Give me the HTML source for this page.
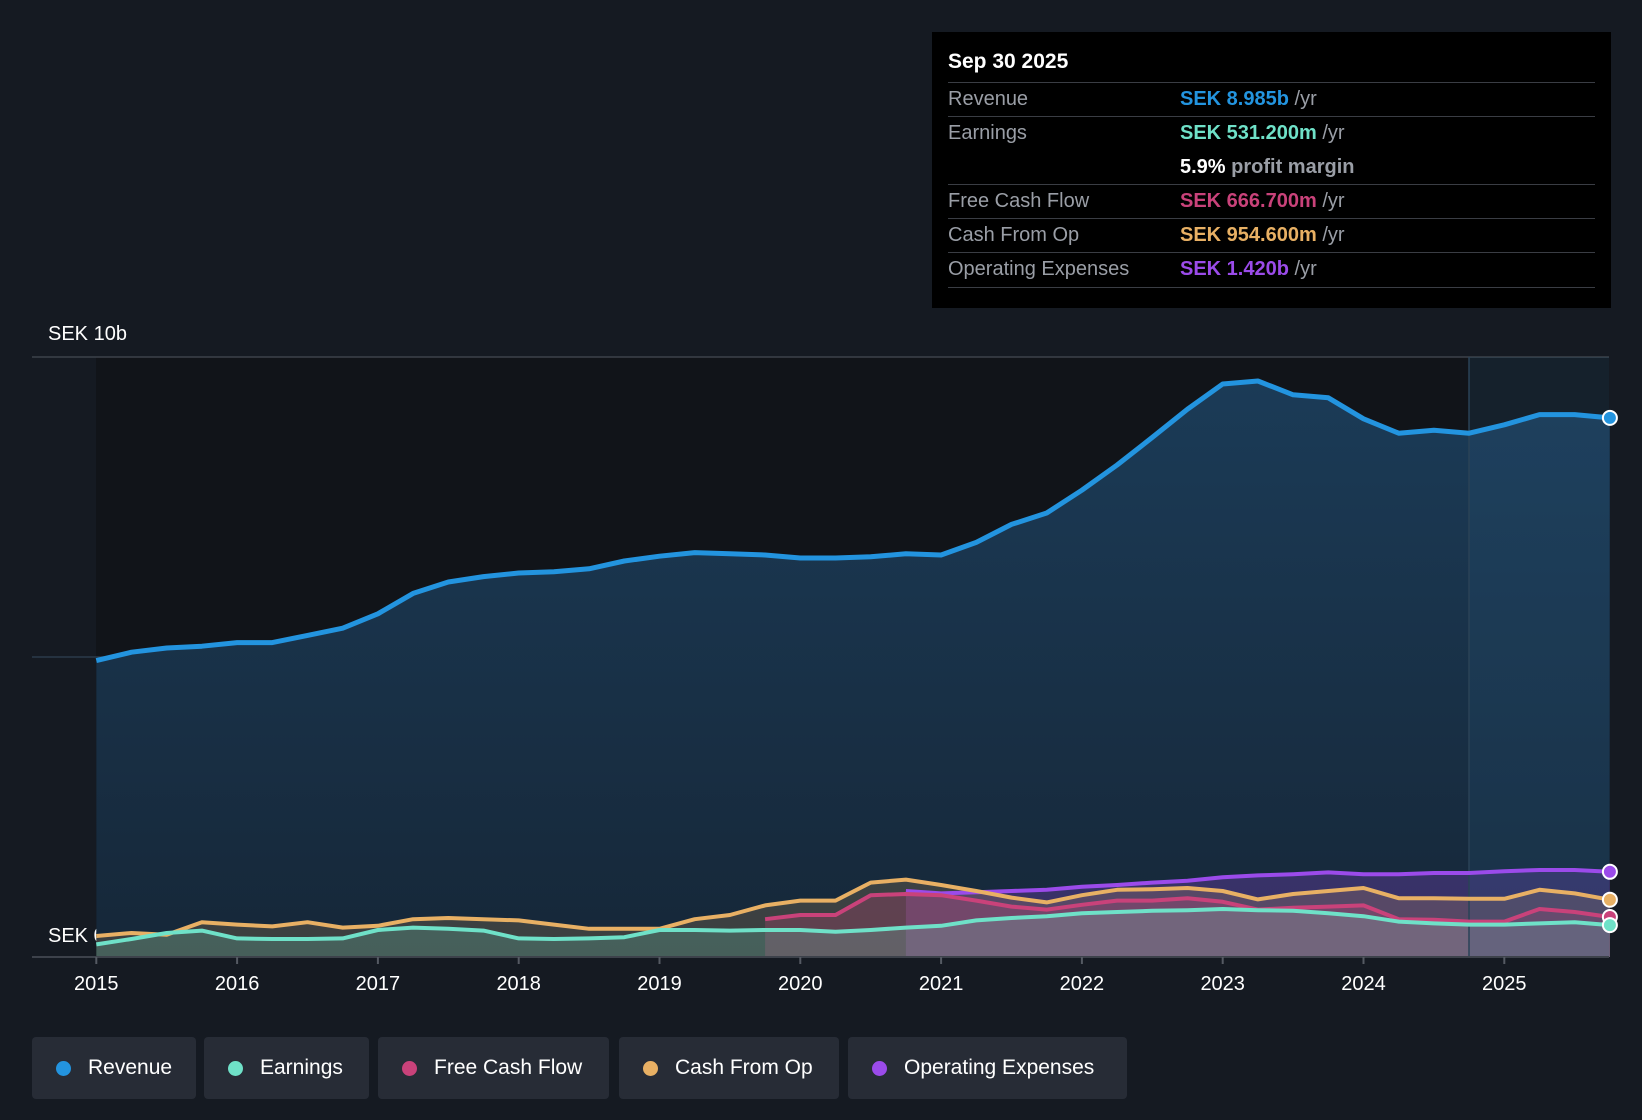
<!DOCTYPE html>
<html><head><meta charset="utf-8">
<style>
body{margin:0;width:1642px;height:1120px;background:#151a22;font-family:"Liberation Sans",sans-serif;overflow:hidden;position:relative}
.tt{position:absolute;left:932px;top:32px;width:679px;height:276px;background:#000;color:#fff}
.tt .t{position:absolute;left:16px;top:18px;font-size:21px;font-weight:bold}
.row{position:absolute;left:16px;width:647px;height:34px;border-top:1px solid #3a3d44;font-size:20px;line-height:32px;color:#9a9ea6}
.row .v{position:absolute;left:232px;top:0;font-weight:bold}
.row .v span{color:#9a9ea6;font-weight:normal}
.leg{position:absolute;top:1037px;height:62px;background:#272c36;border-radius:4px;color:#fff;font-size:21px;line-height:62px}
.leg i{position:absolute;left:24px;top:24px;width:15px;height:15px;border-radius:50%}
.leg b{font-weight:normal;position:absolute;left:56px}
</style></head><body>
<svg id="chart" width="1642" height="1120" style="position:absolute;left:0;top:0"></svg>
<div class="tt">
<div class="t">Sep 30 2025</div>
<div class="row" style="top:50px">Revenue<div class="v" style="color:#2394df">SEK 8.985b <span>/yr</span></div></div>
<div class="row" style="top:84px;height:68px">Earnings<div class="v" style="color:#6fe1c8">SEK 531.200m <span>/yr</span></div><div class="v" style="top:34px;color:#fff">5.9% <span style="font-weight:bold">profit margin</span></div></div>
<div class="row" style="top:152px">Free Cash Flow<div class="v" style="color:#c9427a">SEK 666.700m <span>/yr</span></div></div>
<div class="row" style="top:186px">Cash From Op<div class="v" style="color:#e8b064">SEK 954.600m <span>/yr</span></div></div>
<div class="row" style="top:220px;border-bottom:1px solid #3a3d44">Operating Expenses<div class="v" style="color:#9b4bea">SEK 1.420b <span>/yr</span></div></div>
</div>
<div class="leg" style="left:32px;width:164px"><i style="background:#2394df"></i><b>Revenue</b></div>
<div class="leg" style="left:204px;width:165px"><i style="background:#6fe1c8"></i><b>Earnings</b></div>
<div class="leg" style="left:378px;width:231px"><i style="background:#c9427a"></i><b>Free Cash Flow</b></div>
<div class="leg" style="left:619px;width:220px"><i style="background:#e8b064"></i><b>Cash From Op</b></div>
<div class="leg" style="left:848px;width:279px"><i style="background:#9b4bea"></i><b>Operating Expenses</b></div>
<script>
const startYear=2015, step=0.25;
const revenue=[4.94,5.08,5.15,5.18,5.24,5.24,5.36,5.48,5.72,6.06,6.25,6.34,6.40,6.42,6.47,6.60,6.68,6.74,6.72,6.70,6.65,6.65,6.67,6.72,6.70,6.91,7.21,7.40,7.78,8.20,8.66,9.13,9.55,9.60,9.37,9.32,8.97,8.73,8.78,8.73,8.87,9.04,9.04,8.985];
const earnings=[0.21,0.30,0.40,0.44,0.31,0.30,0.30,0.31,0.45,0.49,0.47,0.44,0.31,0.30,0.31,0.33,0.45,0.45,0.44,0.45,0.45,0.42,0.45,0.49,0.52,0.61,0.65,0.68,0.73,0.75,0.77,0.78,0.80,0.78,0.77,0.73,0.68,0.59,0.56,0.54,0.54,0.56,0.58,0.531];
const cfo=[0.35,0.40,0.37,0.58,0.54,0.51,0.58,0.49,0.52,0.63,0.65,0.63,0.61,0.54,0.47,0.47,0.47,0.63,0.70,0.86,0.94,0.94,1.24,1.29,1.20,1.10,0.99,0.91,1.03,1.12,1.13,1.15,1.10,0.96,1.05,1.10,1.15,0.98,0.98,0.97,0.97,1.12,1.06,0.955];
const fcfStart=2019.75;
const fcf=[0.63,0.70,0.70,1.03,1.05,1.03,0.94,0.84,0.79,0.87,0.94,0.94,0.98,0.92,0.79,0.82,0.84,0.86,0.63,0.62,0.59,0.59,0.80,0.75,0.667];
const opexStart=2020.75;
const opex=[1.10,1.06,1.08,1.10,1.12,1.17,1.20,1.24,1.27,1.33,1.36,1.38,1.41,1.38,1.38,1.40,1.40,1.43,1.45,1.45,1.42];
const years=[2015,2016,2017,2018,2019,2020,2021,2022,2023,2024,2025];
const yTicks=[0,5,10];
const yLabels=["SEK 0","","SEK 10b"];
const X=t=>96.3+(t-2015)*140.8, Y=v=>957-v*60;
const svg=document.getElementById('chart'),NS='http://www.w3.org/2000/svg';
function el(tag,a){const e=document.createElementNS(NS,tag);for(const k in a)e.setAttribute(k,a[k]);svg.appendChild(e);return e;}
const defs=el('defs',{});
defs.innerHTML='<linearGradient id="rg" x1="0" y1="0" x2="0" y2="1"><stop offset="0" stop-color="#1b3b57"/><stop offset="1" stop-color="#162738"/></linearGradient>';
const bg=el('rect',{x:96,y:357,width:1513,height:600,fill:'#111419'});


yTicks.forEach((v,i)=>{const l=el('line',{x1:32,x2:1609,y1:Y(v),y2:Y(v),stroke:i==1?'#2b3a4a':'#3d424b','stroke-width':1.5});


if(yLabels[i]){const t=el('text',{x:48,y:Y(v)-(i==0?15:17),fill:'#fff','font-size':20});t.textContent=yLabels[i];

}});
function pts(arr,start){return arr.map((v,i)=>[X(start+i*step),Y(v)]);}
function path(p){return p.map((q,i)=>(i?'L':'M')+q[0].toFixed(1)+' '+q[1].toFixed(1)).join('');}
const series=[[revenue,2015,'#2394df','revenue','url(#rg)',1],[opex,opexStart,'#9b4bea','opex','#9b4bea',0.25],[cfo,2015,'#e8b064','cfo','#e8b064',0.18],[fcf,fcfStart,'#c9427a','fcf','#c9427a',0.25],[earnings,2015,'#6fe1c8','earnings','#6fe1c8',0.2]];
series.forEach(s=>{const p=pts(s[0],s[1]);const a=el('path',{d:path(p)+`L${p[p.length-1][0]} ${Y(0)}L${p[0][0]} ${Y(0)}Z`,fill:s[4],'fill-opacity':s[5]});

});
const fc=el('rect',{x:1469,y:357,width:140,height:600,fill:'#2a5d86','fill-opacity':0.18});


el('line',{x1:1469,x2:1469,y1:357,y2:957,stroke:'#2a4256','stroke-width':1.5});
series.forEach(s=>{const p=pts(s[0],s[1]);const l=el('path',{d:path(p),fill:'none',stroke:s[2],'stroke-width':s[3]=='revenue'?5:4,'stroke-linejoin':'round'});


const q=p[p.length-1];const c=el('circle',{cx:q[0],cy:q[1],r:7,fill:s[2],stroke:'#fff','stroke-width':2});

});
el('line',{x1:32,x2:1609,y1:957,y2:957,stroke:'#3d424b','stroke-width':2});
years.forEach(y=>{el('line',{x1:X(y),x2:X(y),y1:957,y2:964,stroke:'#555a63','stroke-width':2});
const t=el('text',{x:X(y),y:990,fill:'#fff','font-size':20,'text-anchor':'middle'});t.textContent=y;

});
</script>
</body></html>
